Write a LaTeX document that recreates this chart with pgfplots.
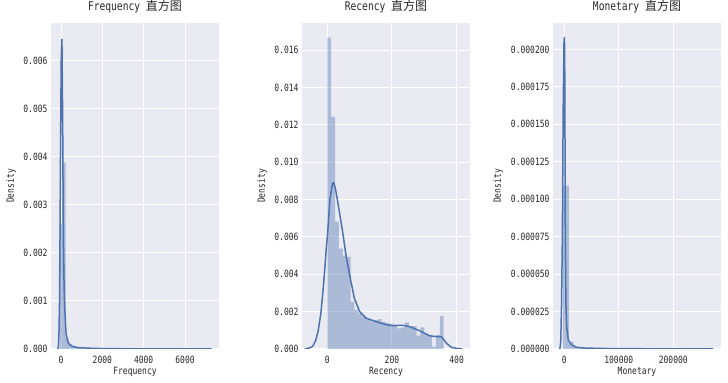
\documentclass[border=0pt]{standalone}
\usepackage{fontspec}
\setmainfont{DejaVu Sans Mono}[FakeStretch=0.8]
\newfontfamily\cjk{Noto Sans CJK SC}
\usepackage{pgfplots}
\pgfplotsset{compat=1.18}
\definecolor{bg}{HTML}{EAEAF2}
\definecolor{sblue}{HTML}{4C72B0}
\definecolor{txt}{HTML}{262626}
\pgfplotsset{rfm/.style={
  scale only axis, width=168bp, height=326bp, anchor=south west,
  axis background/.style={fill=bg},
  axis line style={draw=none},
  major tick length=0pt,
  grid=major, major grid style={white, line width=1bp},
  tick label style={font=\fontsize{10bp}{12bp}\selectfont, text=txt},
  label style={font=\fontsize{10bp}{12bp}\selectfont, text=txt},
  title style={font=\fontsize{12bp}{14bp}\selectfont, text=txt, at={(axis description cs:0.5,1.0307)}, anchor=center},
  scaled ticks=false,
  xticklabel style={yshift=-3.5bp, /pgf/number format/.cd, fixed, set thousands separator={}, assume math mode=true},
  xlabel style={at={(axis description cs:0.5,-0.0706)}, anchor=center},
  ylabel={Density},
  ymin=0,
  hist/.style={ybar interval, fill=sblue, fill opacity=0.4, draw=none},
  kde/.style={sblue, line width=1.5bp, line join=round},
}}
\begin{document}
\begin{tikzpicture}
\useasboundingbox (0,0) rectangle (728bp,383bp);
% ---------------- Frequency
\begin{axis}[rfm, at={(51bp,34bp)},
  title={Frequency {\cjk 直方图}}, xlabel={Frequency},
  xmin=-484, xmax=7645, ymax=0.00679,
  xtick={0,2000,4000,6000}, ytick={0,0.001,...,0.0065},
  yticklabel style={/pgf/number format/.cd, fixed, fixed zerofill, precision=3, assume math mode=true},
  ylabel style={at={(axis description cs:-0.238,0.5)}, anchor=center}]
\addplot[hist] table {
x y
-67 0.0026
80 0.00388
227 0.00022
374 0.0001
521 0.00004
668 0.00002
815 0.00002
962 0.00001
1109 0.00001
1256 0.00001
1403 0
};
\addplot[kde] table {
x y
-160 0
-130 0.00003
-100 0.0003
-70 0.0010
-48 0.0023
-20 0.0043
10 0.0060
45 0.00645
80 0.0048
113 0.0023
150 0.0013
178 0.00088
242 0.00033
300 0.0002
355 0.00013
450 0.00008
595 0.00005
800 0.00003
1200 0.00002
1600 0.000012
2500 0.000006
4000 0.000003
6000 0.000001
7290 0.0000005
};
\end{axis}
% ---------------- Recency
\begin{axis}[rfm, at={(302bp,34bp)},
  title={Recency {\cjk 直方图}}, xlabel={Recency},
  xmin=-78.3, xmax=441.4, ymax=0.01746,
  xtick={0,200,400}, ytick={0,0.002,...,0.0165},
  yticklabel style={/pgf/number format/.cd, fixed, fixed zerofill, precision=3, assume math mode=true},
  ylabel style={at={(axis description cs:-0.238,0.5)}, anchor=center}]
\addplot[hist] table {
x y
0 0.01667
12 0.01243
24 0.00682
36 0.00537
48 0.00500
60 0.00493
72 0.00253
84 0.00209
96 0.00188
108 0.00173
120 0.00159
132 0.00148
144 0.00155
156 0.00160
168 0.00145
180 0.00140
192 0.00136
204 0.00130
216 0.00111
228 0.00116
240 0.00143
252 0.00123
264 0.00123
276 0.00072
288 0.00116
300 0.00084
312 0.00075
324 0.00013
336 0.00075
348 0.00177
360 0
};
\addplot[kde] table {
x y
-70 0
-56 0.00005
-45 0.00015
-35 0.0005
-28 0.0010
-20 0.0019
-14 0.0030
-9 0.0040
-4 0.0052
1 0.0062
8 0.0080
16 0.00887
20 0.0089
25 0.0086
35 0.0076
48 0.0062
58 0.0050
72 0.0037
84 0.0027
100 0.0020
121 0.00164
152 0.00146
161 0.00141
183 0.00130
202 0.00125
233 0.00127
254 0.00120
285 0.00098
316 0.00071
337 0.00066
353 0.00066
369 0.00030
384 0.00009
400 0.00003
418 0
};
\end{axis}
% ---------------- Monetary
\begin{axis}[rfm, at={(553bp,34bp)},
  title={Monetary {\cjk 直方图}}, xlabel={Monetary},
  xmin=-20700, xmax=287500, ymax=0.0002176,
  xtick={0,100000,200000}, ytick={0,0.000025,...,0.00021},
  yticklabel style={/pgf/number format/.cd, fixed, fixed zerofill, precision=6, assume math mode=true},
  ylabel style={at={(axis description cs:-0.327,0.5)}, anchor=center}]
\addplot[hist] table {
x y
-2000 0.000109
8600 0.0000050
17200 0.0000014
25800 0.0000007
34400 0.0000004
43000 0.0000003
51600 0.0000002
60200 0
};
\addplot[kde] table {
x y
-9000 0
-7900 0.0000005
-6500 0.000005
-5000 0.000030
-3600 0.000073
-2000 0.000160
-500 0.000205
300 0.000208
1000 0.000180
1835 0.000073
3000 0.000030
4400 0.000015
7400 0.000006
13500 0.0000027
22700 0.0000011
40000 0.0000006
80000 0.0000003
150000 0.00000015
273000 0.00000005
};
\end{axis}
\end{tikzpicture}
\end{document}
